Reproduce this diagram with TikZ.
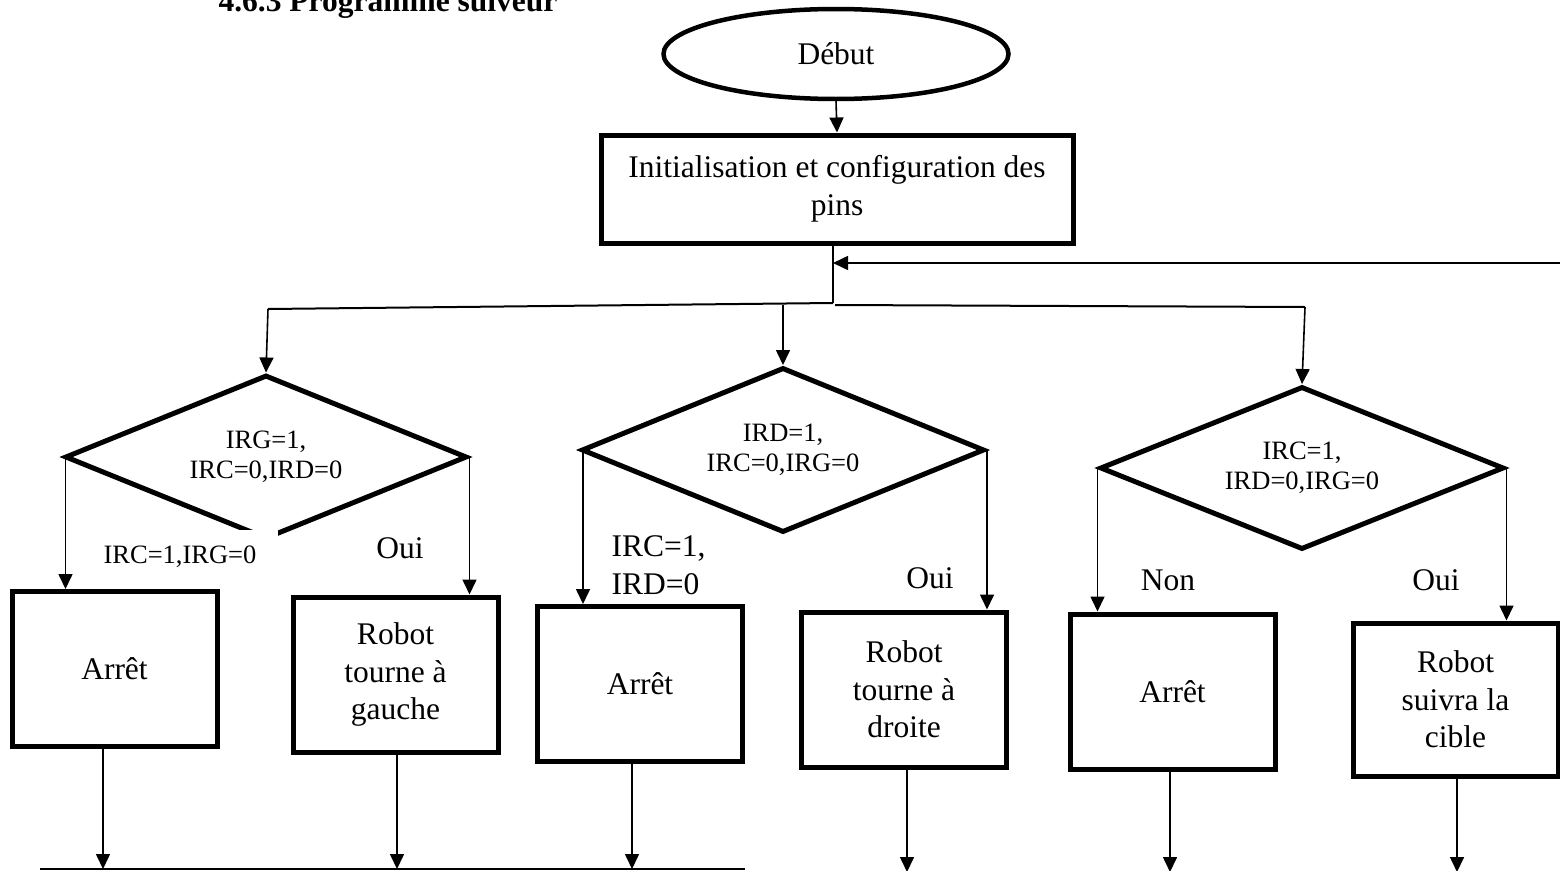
\documentclass[tikz,border=0pt]{standalone}
\usepackage{fontspec}
\setmainfont{Liberation Serif}
\usetikzlibrary{shapes.geometric,arrows.meta}
\begin{document}
\begin{tikzpicture}[x=1pt,y=-1pt,
  bigtxt/.style={font=\fontsize{31.5}{37.5}\selectfont},
  smalltxt/.style={font=\fontsize{26.5}{30}\selectfont},
  boxnode/.style={draw, line width=5pt, minimum width=205pt, minimum height=155pt, inner sep=0pt, align=center, bigtxt},
  decision/.style={diamond, draw, line width=5pt, aspect=2.45, inner sep=0pt, align=center, smalltxt},
  arr/.style={line width=1.6pt, -{Triangle[length=15pt,width=14pt]}},
  conn/.style={line width=2pt},
]
\useasboundingbox (0,0) rectangle (1560,870);

\node[anchor=base west, font=\bfseries\fontsize{31.5}{37.5}\selectfont] (title) at (215,11) {4.6.3 Programme suiveur};
\node[ellipse, draw, line width=4.5pt, minimum width=345pt, minimum height=90pt, bigtxt] (start) at (836,54) {Début};
\node[boxnode, minimum width=472pt, minimum height=108pt] (init) at (837,189) {Initialisation et configuration des\\pins};

\node[decision, minimum width=402pt, minimum height=164pt] (d1) at (266,457) {IRG=1,\\IRC=0,IRD=0};
\node[decision, minimum width=403pt, minimum height=165pt] (d2) at (783,450) {IRD=1,\\IRC=0,IRG=0};
\node[decision, minimum width=404pt, minimum height=163pt] (d3) at (1302,468) {IRC=1,\\IRD=0,IRG=0};

\node[boxnode] (a1) at (114.5,669) {Arrêt};
\node[boxnode] (g) at (395.5,674.5) {Robot\\tourne à\\gauche};
\node[boxnode] (a2) at (640,684) {Arrêt};
\node[boxnode] (dr) at (904,689.5) {Robot\\tourne à\\droite};
\node[boxnode] (a3) at (1172.5,691.5) {Arrêt};
\node[boxnode, minimum height=153pt] (s) at (1455.5,699.5) {Robot\\suivra la\\cible};

\node[smalltxt, fill=white, inner xsep=22pt, inner ysep=16pt] (l1) at (180,557) {IRC=1,IRG=0};
\node[bigtxt] (oui1) at (400,548) {Oui};
\node[bigtxt, align=left, anchor=west] (l2) at (608,565) {IRC=1,\\IRD=0};
\node[bigtxt] (oui2) at (930,578) {Oui};
\node[bigtxt] (non3) at (1168,580) {Non};
\node[bigtxt] (oui3) at (1436,580) {Oui};

\coordinate (J) at (833,303);
\coordinate (J2) at (835,305);
\coordinate (fb) at (1562,263);
\coordinate (L) at (268,309);
\coordinate (R) at (1305,307);
\coordinate (M) at (783,305);

\draw[arr] (start.south) -- (init.north);
\draw[conn] (init.south -| J) -- (J);
\draw[arr] (fb) -- (J |- fb);
\draw[conn] (J) -- (L);
\draw[conn] (J2) -- (R);
\draw[arr] (L) -- (d1.north);
\draw[arr] (M) -- (d2.north);
\draw[arr] (R) -- (d3.north);

\draw[arr] ([xshift=3pt]d1.west) -- ([xshift=3pt]d1.west |- a1.north);
\draw[arr] (d1.east) -- (d1.east |- g.north);
\draw[arr] ([xshift=4pt]d2.west) -- ([xshift=4pt]d2.west |- a2.north);
\draw[arr] (d2.east) -- (d2.east |- dr.north);
\draw[arr] (d3.west) -- (d3.west |- a3.north);
\draw[arr] (d3.east) -- (d3.east |- s.north);

\coordinate (b1) at (103,869);
\coordinate (b2) at (397,869);
\coordinate (b3) at (632,869);
\coordinate (b4) at (907,872);
\coordinate (b5) at (1170,872);
\coordinate (b6) at (1457,872);
\coordinate (bl) at (40,869);
\coordinate (br) at (745,869);
\draw[arr] (b1 |- a1.south) -- (b1);
\draw[arr] (b2 |- g.south) -- (b2);
\draw[arr] (b3 |- a2.south) -- (b3);
\draw[arr] (b4 |- dr.south) -- (b4);
\draw[arr] (b5 |- a3.south) -- (b5);
\draw[arr] (b6 |- s.south) -- (b6);
\draw[conn] (bl) -- (br);
\end{tikzpicture}
\end{document}
